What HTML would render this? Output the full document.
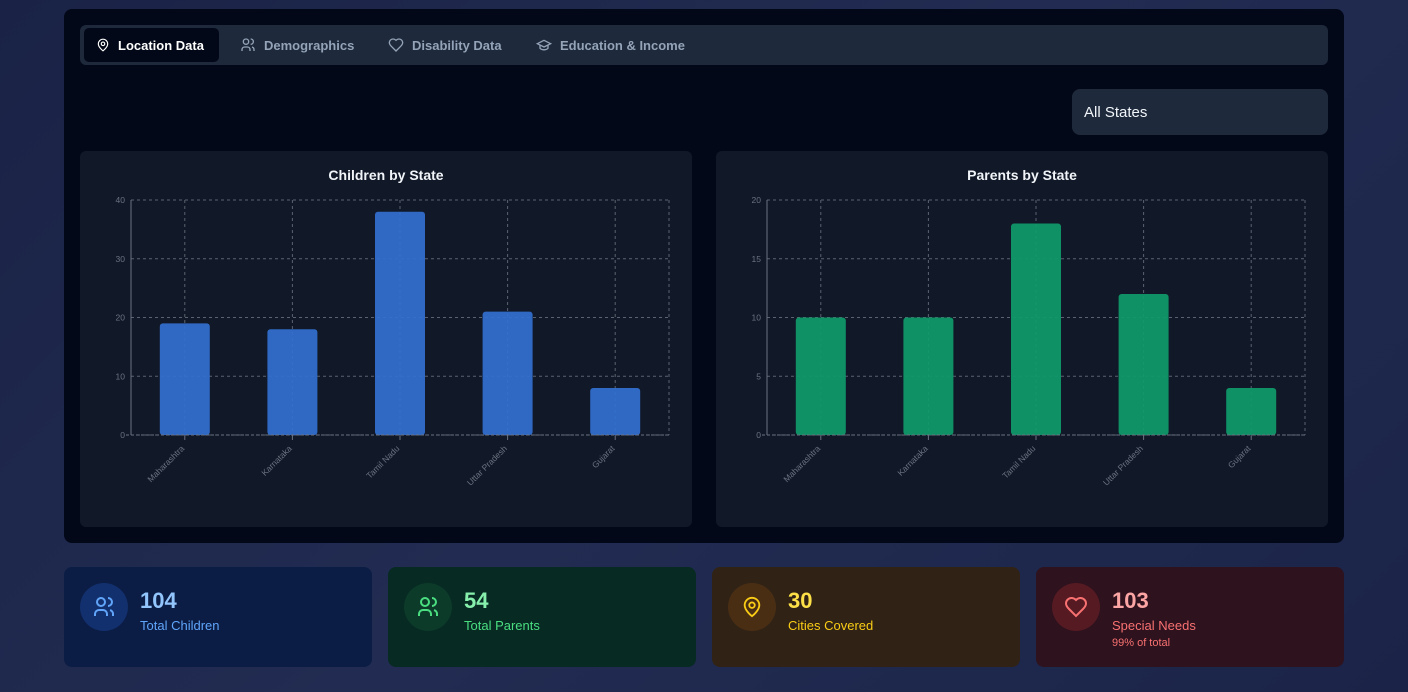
<!DOCTYPE html>
<html><head><meta charset="utf-8">
<style>
*{box-sizing:border-box;margin:0;padding:0}
body{width:1408px;height:692px;overflow:hidden;font-family:"Liberation Sans",sans-serif;background:linear-gradient(135deg,#1a2346 0%,#222c52 50%,#1b2448 100%);position:relative}
.main{position:absolute;left:64px;top:9px;width:1280px;height:534px;background:#020817;border-radius:8px}
.tabs{position:absolute;left:16px;top:16px;width:1248px;height:40px;background:#1e293b;border-radius:6px}
.tab{position:absolute;top:3px;height:34px;display:flex;align-items:center;gap:8px;padding:0 12px;font-size:13px;font-weight:bold;color:#94a3b8;border-radius:5px}
.tab.active{background:#020817;color:#fff}
.select{position:absolute;left:1008px;top:80px;width:256px;height:46px;background:#1e293b;border-radius:8px;color:#f1f5f9;font-size:15px;padding:15px 12px}
.card{position:absolute;top:142px;width:612px;height:376px;background:#111827;border-radius:6px}
.card h3{position:absolute;top:16px;width:100%;text-align:center;color:#f1f5f9;font-size:14px}
.stat{position:absolute;top:567px;width:308px;height:100px;border-radius:8px}
.ic{position:absolute;left:16px;top:16px;width:48px;height:48px;border-radius:50%;display:flex;align-items:center;justify-content:center}
.num{position:absolute;left:76px;top:21px;font-size:22px;font-weight:bold}
.lbl{position:absolute;left:76px;top:51px;font-size:13px}
.sub{position:absolute;left:76px;top:70px;font-size:11px}
</style></head><body>
<div class="main">
 <div class="tabs">
  <div class="tab active" style="left:4px;width:135px"><svg width="14" height="14" viewBox="0 0 24 24" fill="none" stroke="currentColor" stroke-width="2"><path d="M20 10c0 6-8 12-8 12S4 16 4 10a8 8 0 0 1 16 0z"/><circle cx="12" cy="10" r="3"/></svg>Location Data</div>
  <div class="tab" style="left:148px"><svg width="16" height="16" viewBox="0 0 24 24" fill="none" stroke="currentColor" stroke-width="2"><circle cx="9" cy="7" r="4"/><path d="M3 21v-2a4 4 0 0 1 4-4h4a4 4 0 0 1 4 4v2M16 3a4 4 0 0 1 0 8M21 21v-2a4 4 0 0 0-3-3.9"/></svg>Demographics</div>
  <div class="tab" style="left:296px"><svg width="16" height="16" viewBox="0 0 24 24" fill="none" stroke="currentColor" stroke-width="2"><path d="M19 14c1.5-1.5 3-3.2 3-5.5A5.5 5.5 0 0 0 16.5 3c-1.8 0-3 .5-4.5 2-1.5-1.5-2.7-2-4.5-2A5.5 5.5 0 0 0 2 8.5c0 2.3 1.5 4 3 5.5l7 7z"/></svg>Disability Data</div>
  <div class="tab" style="left:444px"><svg width="16" height="16" viewBox="0 0 24 24" fill="none" stroke="currentColor" stroke-width="2"><path d="M22 10 12 5 2 10l10 5 10-5z"/><path d="M6 12v5c3 3 9 3 12 0v-5"/></svg>Education &amp; Income</div>
 </div>
 <div class="select">All States</div>
 <div class="card" style="left:16px"><h3>Children by State</h3><svg id="c1" width="612" height="376" style="position:absolute;left:0;top:0"></svg></div>
 <div class="card" style="left:652px"><h3>Parents by State</h3><svg id="c2" width="612" height="376" style="position:absolute;left:0;top:0"></svg></div>
</div>

<div class="stat" style="left:64px;background:#0b1d45"><div class="ic" style="background:#13306e;color:#60a5fa"><svg width="24" height="24" viewBox="0 0 24 24" fill="none" stroke="currentColor" stroke-width="2"><circle cx="9" cy="7" r="4"/><path d="M3 21v-2a4 4 0 0 1 4-4h4a4 4 0 0 1 4 4v2M16 3a4 4 0 0 1 0 8M21 21v-2a4 4 0 0 0-3-3.9"/></svg></div><div class="num" style="color:#93c5fd">104</div><div class="lbl" style="color:#60a5fa">Total Children</div></div>
<div class="stat" style="left:388px;background:#072a23"><div class="ic" style="background:#0c3b2a;color:#4ade80"><svg width="24" height="24" viewBox="0 0 24 24" fill="none" stroke="currentColor" stroke-width="2"><circle cx="9" cy="7" r="4"/><path d="M3 21v-2a4 4 0 0 1 4-4h4a4 4 0 0 1 4 4v2M16 3a4 4 0 0 1 0 8M21 21v-2a4 4 0 0 0-3-3.9"/></svg></div><div class="num" style="color:#86efac">54</div><div class="lbl" style="color:#4ade80">Total Parents</div></div>
<div class="stat" style="left:712px;background:#302316"><div class="ic" style="background:#4a2e14;color:#facc15"><svg width="22" height="22" viewBox="0 0 24 24" fill="none" stroke="currentColor" stroke-width="2"><path d="M20 10c0 6-8 12-8 12S4 16 4 10a8 8 0 0 1 16 0z"/><circle cx="12" cy="10" r="3"/></svg></div><div class="num" style="color:#fde047">30</div><div class="lbl" style="color:#facc15">Cities Covered</div></div>
<div class="stat" style="left:1036px;background:#2e121e"><div class="ic" style="background:#561a22;color:#f87171"><svg width="24" height="24" viewBox="0 0 24 24" fill="none" stroke="currentColor" stroke-width="2"><path d="M19 14c1.5-1.5 3-3.2 3-5.5A5.5 5.5 0 0 0 16.5 3c-1.8 0-3 .5-4.5 2-1.5-1.5-2.7-2-4.5-2A5.5 5.5 0 0 0 2 8.5c0 2.3 1.5 4 3 5.5l7 7z"/></svg></div><div class="num" style="color:#fca5a5">103</div><div class="lbl" style="color:#f87171">Special Needs</div><div class="sub" style="color:#f87171">99% of total</div></div>

<script>
const categories=["Maharashtra","Karnataka","Tamil Nadu","Uttar Pradesh","Gujarat"];
const childrenValues=[19,18,38,21,8];
const parentsValues=[10,10,18,12,4];
const childrenTicks=[0,10,20,30,40];
const parentsTicks=[0,5,10,15,20];
const NS="http://www.w3.org/2000/svg";
function mk(svg,tag,attrs,text){const e=document.createElementNS(NS,tag);for(const k in attrs)e.setAttribute(k,attrs[k]);if(text!==undefined)e.textContent=text;svg.appendChild(e);return e;}
function draw(id,values,ticks,color,prefix){
 const svg=document.getElementById(id);
 const L=51,R=589,T=49,B=284,max=ticks[ticks.length-1];
 const band=(R-L)/categories.length;
 const y=v=>B-(v/max)*(B-T);
 const x=i=>L+band*(i+0.5);
 ticks.forEach(t=>{
  const g=mk(svg,'line',{x1:L,x2:R,y1:y(t),y2:y(t),stroke:'#5b6270','stroke-dasharray':'3 3'});
  
  
  const tl=mk(svg,'text',{x:L-6,y:y(t)+3,'text-anchor':'end','font-size':8.5,fill:'#6b7280'},t);
  
  
 });
 mk(svg,'line',{x1:R,x2:R,y1:T,y2:B,stroke:'#5b6270','stroke-dasharray':'3 3'});
 categories.forEach((c,i)=>{
  const g=mk(svg,'line',{x1:x(i),x2:x(i),y1:T,y2:B,stroke:'#5b6270','stroke-dasharray':'3 3'});
  
  
  const v=values[i];
  const b=mk(svg,'rect',{x:x(i)-25,y:y(v),width:50,height:B-y(v),rx:3,fill:color,'fill-opacity':0.93});
  
  
  mk(svg,'line',{x1:x(i),x2:x(i),y1:B,y2:B+5,stroke:'#6b7280'});
  const tl=mk(svg,'text',{x:x(i),y:B+14,'text-anchor':'end','font-size':8.5,fill:'#6b7280',transform:`rotate(-45 ${x(i)} ${B+14})`},c);
  
  
 });
 mk(svg,'line',{x1:L,x2:L,y1:T,y2:B,stroke:'#6b7280'});
 mk(svg,'line',{x1:L-5,x2:R,y1:B,y2:B,stroke:'#6b7280','stroke-dasharray':'3 2'});
}
draw('c1',childrenValues,childrenTicks,'#3170d0','children');
draw('c2',parentsValues,parentsTicks,'#0f9a6b','parents');
</script>
</body></html>
